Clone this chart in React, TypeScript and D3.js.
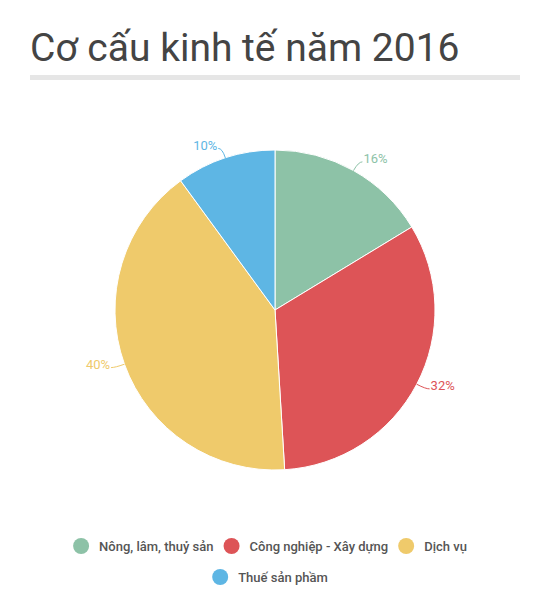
import React, { useEffect, useRef } from "react";
import * as d3 from "d3";

const categories = [
  "Nông, lâm, thuỷ sản",
  "Công nghiệp - Xây dựng",
  "Dịch vụ",
  "Thuế sản phầm",
];
const values = [16.32, 32.72, 40.92, 10.04];
const colors = ["#8dc2a7", "#dd5457", "#efca6b", "#5eb6e4"];
const title = "Cơ cấu kinh tế năm 2016";

const width = 551;
const height = 599;

type Slice = { category: string; value: number; color: string };

const App: React.FC = () => {
  const svgRef = useRef<SVGSVGElement>(null);

  useEffect(() => {
    if (!svgRef.current) return;
    const root = d3.select(svgRef.current);
    root.selectAll("*").remove();

    const font = "Roboto, 'Noto Sans', sans-serif";

    // title + grey rule
    root
      .append("text")
      .attr("x", 30)
      .attr("y", 61)
      .attr("font-family", font)
      .attr("font-size", 39)
      .attr("fill", "#444")
      .text(title);
    root
      .append("rect")
      .attr("x", 30)
      .attr("y", 75)
      .attr("width", 490)
      .attr("height", 5)
      .attr("fill", "#e6e6e6");

    const data: Slice[] = categories.map((c, i) => ({
      category: c,
      value: values[i],
      color: colors[i],
    }));
    const total = d3.sum(values);

    const radius = 160;
    const g = root.append("g").attr("transform", "translate(275, 310)");

    const pie = d3
      .pie<Slice>()
      .sort(null)
      .value((d) => d.value);
    const arc = d3.arc<d3.PieArcDatum<Slice>>().innerRadius(0).outerRadius(radius);
    const arcs = pie(data);

    g.selectAll("path.slice")
      .data(arcs)
      .enter()
      .append("path")
      .attr("class", "slice")
      .attr("d", arc as any)
      .attr("fill", (d) => d.data.color)
      .attr("stroke", "#fff")
      .attr("stroke-width", 1);

    // leader ticks and percentage labels
    arcs.forEach((d) => {
      const mid = (d.startAngle + d.endAngle) / 2;
      const sx = Math.sin(mid);
      const sy = -Math.cos(mid);
      const p0 = [sx * radius, sy * radius];
      const p1 = [sx * (radius + 10), sy * (radius + 10)];
      const right = sx >= 0;
      const p2 = [p1[0] + (right ? 4 : -4), p1[1]];
      g.append("path")
        .attr("d", `M${p0[0]},${p0[1]}Q${p1[0]},${p1[1]} ${p2[0]},${p2[1]}`)
        .attr("fill", "none")
        .attr("stroke", d.data.color)
        .attr("stroke-width", 1);
      g.append("text")
        .attr("x", p2[0] + (right ? 1 : -1))
        .attr("y", p2[1] - 2)
        .attr("text-anchor", right ? "start" : "end")
        .attr("dominant-baseline", "middle")
        .attr("font-family", font)
        .attr("font-size", 13)
        .attr("fill", d.data.color)
        .text(`${Math.floor((d.data.value / total) * 100)}%`);
    });

    // legend, wrapped into centred rows
    const legend = root.append("g");
    const items = data.map((d) => {
      const item = legend.append("g");
      item.append("circle").attr("r", 8).attr("cx", 8).attr("cy", 0).attr("fill", d.color);
      const t = item
        .append("text")
        .attr("x", 26)
        .attr("y", 0)
        .attr("dominant-baseline", "central")
        .attr("font-family", font)
        .attr("font-size", 13)
        .attr("font-weight", 500)
        .attr("fill", "#555")
        .text(d.category);
      const w = 26 + (t.node() as SVGTextElement).getComputedTextLength();
      return { item, w };
    });
    const gap = 10;
    const maxRow = 430;
    const rows: { item: any; w: number }[][] = [];
    let cur: { item: any; w: number }[] = [];
    let curW = 0;
    items.forEach((it) => {
      const add = cur.length ? gap + it.w : it.w;
      if (cur.length && curW + add > maxRow) {
        rows.push(cur);
        cur = [it];
        curW = it.w;
      } else {
        cur.push(it);
        curW += add;
      }
    });
    if (cur.length) rows.push(cur);
    rows.forEach((row, ri) => {
      const rw = d3.sum(row, (r) => r.w) + gap * (row.length - 1);
      let x = 270 - rw / 2;
      row.forEach((r) => {
        r.item.attr("transform", `translate(${x}, ${546 + ri * 31})`);
        x += r.w + gap;
      });
    });
  }, []);

  return (
    <svg
      ref={svgRef}
      width={width}
      height={height}
      style={{ position: "absolute", left: 0, top: 0, background: "#fff" }}
    />
  );
};

export default App;
